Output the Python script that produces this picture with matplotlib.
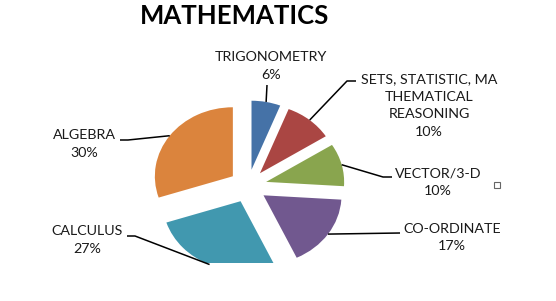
import numpy as np
import matplotlib
matplotlib.use("Agg")
import matplotlib.pyplot as plt

categories = ["TRIGONOMETRY", "SETS, STATISTIC, MA\nTHEMATICAL\nREASONING", "VECTOR/3-D",
              "CO-ORDINATE", "CALCULUS", "ALGEBRA"]
values = [6, 10, 10, 17, 27, 30]
colors = ["#4572A7", "#AA4643", "#89A54E", "#71588F", "#4198AF", "#DB843D"]
title = "MATHEMATICS"

W, H = 556, 301
fig = plt.figure(figsize=(W / 100, H / 100), dpi=100)
plt.rcParams['font.family'] = ['Lato', 'DejaVu Sans']

# pixel geometry
CX, CY = 248, 186      # pie centre (px from left / top)
SX, SY = 78, 69        # px per data unit
CLIP = 263             # bottom clip of plot area (px from top)
ax = fig.add_axes([0, (H - CLIP) / H, 1, CLIP / H])

def d(px, py):
    return (px - CX) / SX, (CY - py) / SY

explode = 0.24
wedges, _ = ax.pie(values, colors=colors, startangle=90, counterclock=False,
                   explode=[explode] * len(values), radius=1,
                   wedgeprops=dict(linewidth=0))
for w in wedges:
    w.set_clip_on(True)
    w.set_clip_box(ax.bbox)
ax.set_aspect('auto')
ax.set_xlim(-CX / SX, (W - CX) / SX)
ax.set_ylim((CY - CLIP) / SY, CY / SY)
ax.axis('off')

# label text positions (px) and leader elbow points (px)
label_pos = [(271, 66), (429, 105.5), (438, 182.5), (452, 237.5), (87, 240), (84, 144)]
elbows = [[(267, 85)],
          [(347, 81), (356, 81)],
          [(383, 177), (392, 177)],
          [(400, 233)],
          [(135, 236), (127, 236)],
          [(128, 140), (120, 140)]]

total = sum(values)
for w, v, cat, lp, el in zip(wedges, values, categories, label_pos, elbows):
    mid = np.deg2rad((w.theta1 + w.theta2) / 2)
    cx, cy = w.center
    ax_, ay_ = cx + w.r * np.cos(mid), cy + w.r * np.sin(mid)
    pts = [(ax_, ay_)] + [d(*p) for p in el]
    xs, ys = zip(*pts)
    ax.plot(xs, ys, color="black", lw=1.1, solid_capstyle='butt', clip_on=False)
    tx, ty = d(*lp)
    ax.text(tx, ty, f"{cat}\n{round(100 * v / total)}%", ha='center', va='center',
            fontsize=10.3, color="#1a1a1a", linespacing=1.55)

# stray selection handle
ax.plot(*d(497, 185), marker='s', ms=4, mfc='white', mec='#666666', mew=0.8)

fig.text(235 / W, 1 - 16 / H, title, ha='center', va='center', fontsize=18.5,
         fontweight='bold', color='black')

fig.savefig("out.png", dpi=100, facecolor='white')
